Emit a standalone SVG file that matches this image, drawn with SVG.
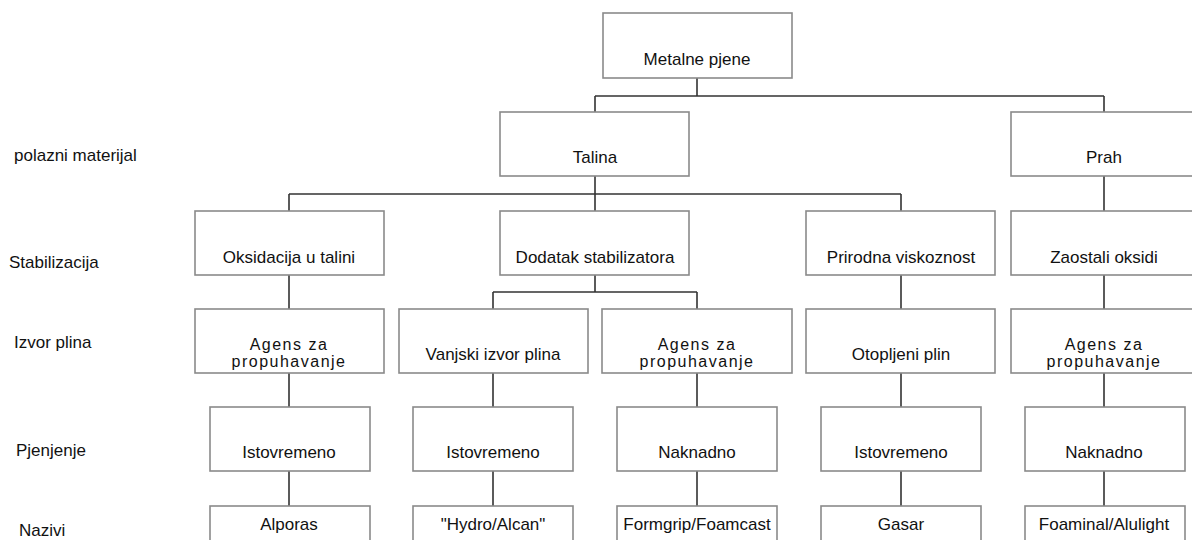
<svg xmlns="http://www.w3.org/2000/svg" width="1192" height="540" viewBox="0 0 1192 540">
<style>
.box{fill:#fff;stroke:#8a8a8a;stroke-width:1.6}
.t{font-family:"Liberation Sans",Arial,sans-serif;font-size:17px;fill:#111;text-anchor:middle}
.a{font-family:"Liberation Sans",Arial,sans-serif;font-size:16px;fill:#111;text-anchor:middle;letter-spacing:1.5px}
.lbl{font-family:"Liberation Sans",Arial,sans-serif;font-size:17px;fill:#111}
.c{fill:none;stroke:#333;stroke-width:1.6}
</style>
<rect width="1192" height="540" fill="#fff"/>
<g id="connectors">
<path class="c" d="M697 78V96M595 96H1104M595 96V112M1104 96V112"/>
<path class="c" d="M595 176V194M289 194H901M289 194V211M595 194V211M901 194V211"/>
<path class="c" d="M1104 176V211"/>
<path class="c" d="M595 275V292M493 292H697M493 292V309M697 292V309"/>
<path class="c" d="M289 275V309M901 275V309M1104 275V309"/>
<path class="c" d="M289 373V407M493 373V407M697 373V407M901 373V407M1104 373V407"/>
<path class="c" d="M289 471V506M493 471V506M697 471V506M901 471V506M1104 471V506"/>
</g>
<g id="labels">
<text class="lbl" x="14" y="161">polazni materijal</text>
<text class="lbl" x="9" y="268">Stabilizacija</text>
<text class="lbl" x="14" y="348">Izvor plina</text>
<text class="lbl" x="16" y="456">Pjenjenje</text>
<text class="lbl" x="19" y="536">Nazivi</text>
</g>
<g id="n-metalne"><rect class="box" x="603" y="13" width="189" height="65"/><text class="t" x="697" y="65">Metalne pjene</text></g>
<g id="n-talina"><rect class="box" x="500" y="112" width="189" height="64"/><text class="t" x="595" y="163">Talina</text></g>
<g id="n-prah"><rect class="box" x="1011" y="112" width="190" height="64"/><text class="t" x="1104" y="163">Prah</text></g>
<g id="n-oksidacija"><rect class="box" x="195" y="211" width="189" height="64"/><text class="t" x="289" y="263">Oksidacija u talini</text></g>
<g id="n-dodatak"><rect class="box" x="500" y="211" width="189" height="64"/><text class="t" x="595" y="263">Dodatak stabilizatora</text></g>
<g id="n-prirodna"><rect class="box" x="806" y="211" width="189" height="64"/><text class="t" x="901" y="263">Prirodna viskoznost</text></g>
<g id="n-zaostali"><rect class="box" x="1011" y="211" width="190" height="64"/><text class="t" x="1104" y="263">Zaostali oksidi</text></g>
<g id="n-agens1"><rect class="box" x="195" y="309" width="189" height="64"/><text class="a" x="289" y="350">Agens za</text><text class="a" x="289" y="367">propuhavanje</text></g>
<g id="n-vanjski"><rect class="box" x="399" y="309" width="189" height="64"/><text class="t" x="493" y="360">Vanjski izvor plina</text></g>
<g id="n-agens2"><rect class="box" x="602" y="309" width="190" height="64"/><text class="a" x="697" y="350">Agens za</text><text class="a" x="697" y="367">propuhavanje</text></g>
<g id="n-otopljeni"><rect class="box" x="806" y="309" width="189" height="64"/><text class="t" x="901" y="360">Otopljeni plin</text></g>
<g id="n-agens3"><rect class="box" x="1011" y="309" width="190" height="64"/><text class="a" x="1104" y="350">Agens za</text><text class="a" x="1104" y="367">propuhavanje</text></g>
<g id="n-ist1"><rect class="box" x="210" y="407" width="160" height="64"/><text class="t" x="289" y="458">Istovremeno</text></g>
<g id="n-ist2"><rect class="box" x="413" y="407" width="160" height="64"/><text class="t" x="493" y="458">Istovremeno</text></g>
<g id="n-nak1"><rect class="box" x="617" y="407" width="160" height="64"/><text class="t" x="697" y="458">Naknadno</text></g>
<g id="n-ist3"><rect class="box" x="821" y="407" width="160" height="64"/><text class="t" x="901" y="458">Istovremeno</text></g>
<g id="n-nak2"><rect class="box" x="1025" y="407" width="160" height="64"/><text class="t" x="1104" y="458">Naknadno</text></g>
<g id="n-alporas"><rect class="box" x="210" y="506" width="160" height="50"/><text class="t" x="289" y="530">Alporas</text></g>
<g id="n-hydro"><rect class="box" x="413" y="506" width="160" height="50"/><text class="t" x="493" y="530">"Hydro/Alcan"</text></g>
<g id="n-formgrip"><rect class="box" x="617" y="506" width="160" height="50"/><text class="t" x="697" y="530">Formgrip/Foamcast</text></g>
<g id="n-gasar"><rect class="box" x="821" y="506" width="160" height="50"/><text class="t" x="901" y="530">Gasar</text></g>
<g id="n-foaminal"><rect class="box" x="1025" y="506" width="160" height="50"/><text class="t" x="1104" y="530">Foaminal/Alulight</text></g>
</svg>
